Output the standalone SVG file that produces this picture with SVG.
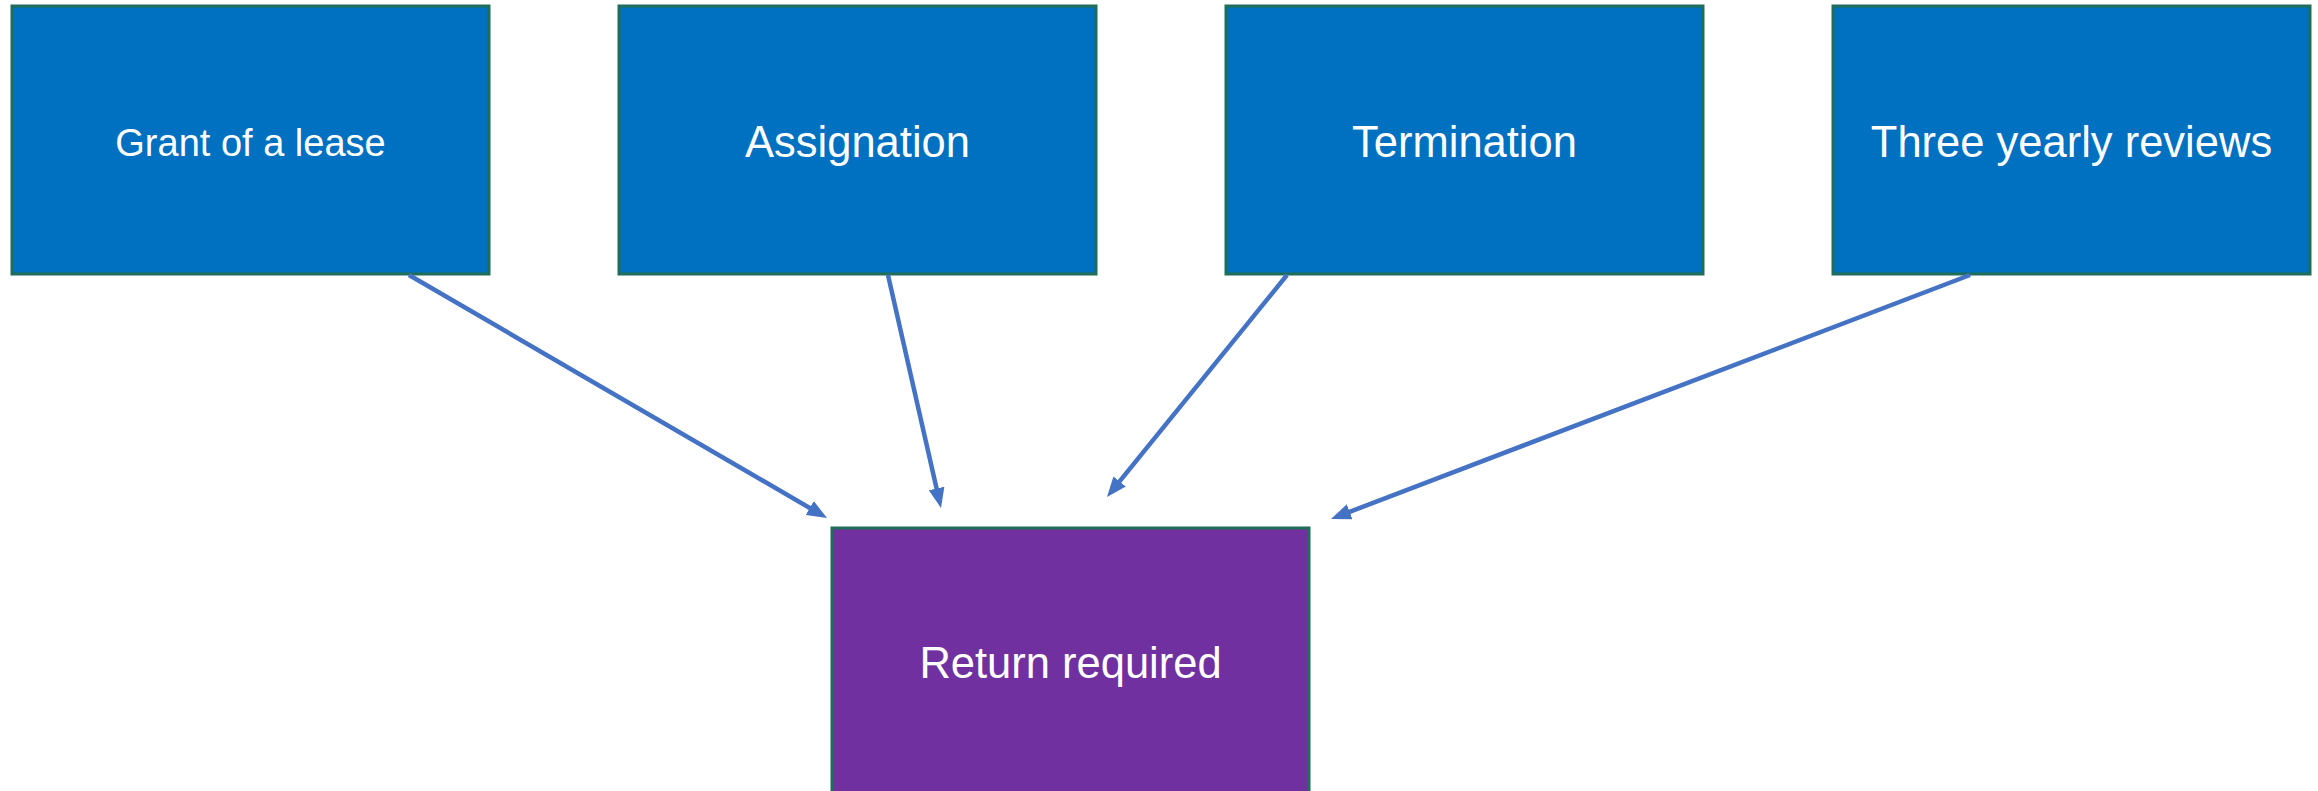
<svg xmlns="http://www.w3.org/2000/svg" width="2318" height="791" viewBox="0 0 2318 791">
<style>
.box{stroke:#1E6E5A;stroke-width:3}
.src{fill:#0070C0}
.dst{fill:#7030A0}
.lbl{font-family:"Liberation Sans",Arial,sans-serif;fill:#FFFFFF;text-anchor:middle}
.conn{stroke:#4472C4;stroke-width:4.5;fill:none}
</style>
<defs>
<marker id="ah" markerUnits="userSpaceOnUse" markerWidth="20" markerHeight="16" viewBox="0 0 20 16" refX="10" refY="8" orient="auto">
<path d="M0,0 L20,8 L0,16 z" fill="#4472C4"/>
</marker>
</defs>
<rect width="2318" height="791" fill="#FFFFFF"/>
<g id="node-grant">
<rect class="box src" x="12" y="6" width="477" height="268"/>
<text class="lbl" x="250.5" y="156" font-size="38">Grant of a lease</text>
</g>
<g id="node-assignation">
<rect class="box src" x="619" y="6" width="477" height="268"/>
<text class="lbl" x="857.5" y="157" font-size="43.5">Assignation</text>
</g>
<g id="node-termination">
<rect class="box src" x="1226" y="6" width="477" height="268"/>
<text class="lbl" x="1464.5" y="157" font-size="43.5">Termination</text>
</g>
<g id="node-reviews">
<rect class="box src" x="1833" y="6" width="477" height="268"/>
<text class="lbl" x="2071.5" y="157" font-size="43.5">Three yearly reviews</text>
</g>
<g id="node-return">
<rect class="box dst" x="832" y="528" width="477" height="268"/>
<text class="lbl" x="1070.5" y="678" font-size="43.5">Return required</text>
</g>
<g id="connectors">
<line class="conn" x1="409" y1="275" x2="818.4" y2="513" marker-end="url(#ah)"/>
<line class="conn" x1="888" y1="275" x2="938.8" y2="498.2" marker-end="url(#ah)"/>
<line class="conn" x1="1287" y1="275" x2="1113.3" y2="489.2" marker-end="url(#ah)"/>
<line class="conn" x1="1970" y1="275" x2="1340.3" y2="515.4" marker-end="url(#ah)"/>
</g>
</svg>
